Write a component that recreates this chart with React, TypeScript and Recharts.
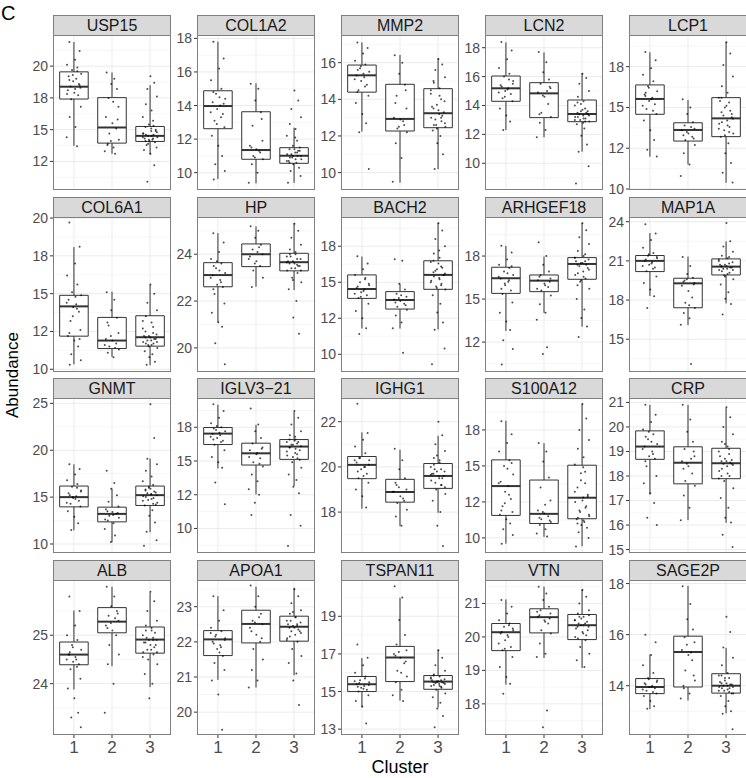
import React from "react";
import {
  ComposedChart,
  XAxis,
  YAxis,
  Scatter,
  CartesianGrid,
  ReferenceArea,
  ReferenceLine,
} from "recharts";

const clusters = [1, 2, 3];

const genes = [
  "USP15", "COL1A2", "MMP2", "LCN2", "LCP1",
  "COL6A1", "HP", "BACH2", "ARHGEF18", "MAP1A",
  "GNMT", "IGLV3\u221221", "IGHG1", "S100A12", "CRP",
  "ALB", "APOA1", "TSPAN11", "VTN", "SAGE2P",
];

const yDomains: [number, number][] = [
  [10.25, 22.45], [8.97, 18.2], [9.05, 17.51], [8.15, 18.88], [9.94, 19.44],
  [9.82, 20.07], [18.97, 25.59], [8.77, 19.53], [10.76, 19.77], [12.49, 24.36],
  [9.04, 25.57], [8.18, 19.67], [16.19, 23.05], [8.95, 19.72], [14.86, 21.18],
  [22.94, 26.14], [19.35, 23.76], [12.69, 20.93], [17.07, 21.7], [12.07, 18.14],
];

const yTicks: number[][] = [
  [12.5, 15, 17.5, 20], [10, 12, 14, 16, 18], [10, 12, 14, 16], [10, 12, 14, 16, 18], [10, 12.5, 15, 17.5],
  [10, 12.5, 15, 17.5, 20], [20, 22, 24], [10, 12.5, 15, 17.5], [12.5, 15, 17.5], [15, 18, 21, 24],
  [10, 15, 20, 25], [10, 12.5, 15, 17.5], [18, 20, 22], [10, 12.5, 15, 17.5], [15, 16, 17, 18, 19, 20, 21],
  [24, 25], [20, 21, 22, 23], [13, 15, 17, 19], [18, 19, 20, 21], [14, 16, 18],
];

const yTickLabels: string[][] = [
  ["12", "15", "18", "20"], ["10", "12", "14", "16", "18"], ["10", "12", "14", "16"], ["10", "12", "14", "16", "18"], ["10", "12", "15", "18"],
  ["10", "12", "15", "18", "20"], ["20", "22", "24"], ["10", "12", "15", "18"], ["12", "15", "18"], ["15", "18", "21", "24"],
  ["10", "15", "20", "25"], ["10", "12", "15", "18"], ["18", "20", "22"], ["10", "12", "15", "18"], ["15", "16", "17", "18", "19", "20", "21"],
  ["24", "25"], ["20", "21", "22", "23"], ["13", "15", "17", "19"], ["18", "19", "20", "21"], ["14", "16", "18"],
];

// [whisker low, q1, median, q3, whisker high] per cluster
const boxStats: number[][][] = [
  [[13.73, 17.41, 18.38, 19.55, 21.9], [13.1, 13.94, 15.17, 17.52, 19.5], [13.05, 14.07, 14.51, 15.25, 18.5]],
  [[9.62, 12.62, 13.97, 14.88, 17.8], [9.37, 10.8, 11.35, 13.63, 15.32], [9.4, 10.56, 11.01, 11.49, 12.68]],
  [[12.24, 14.39, 15.31, 15.87, 17.11], [9.45, 12.27, 12.93, 14.82, 16.42], [10.18, 12.45, 13.24, 14.58, 16.24]],
  [[12.3, 14.29, 15.19, 16.04, 18.37], [11.8, 13.16, 14.84, 15.58, 17.68], [10.8, 12.88, 13.41, 14.38, 16.23]],
  [[11.98, 14.58, 15.52, 16.38, 18.38], [11.51, 12.94, 13.62, 14.06, 15.46], [10.38, 13.21, 14.33, 15.6, 19.0]],
  [[10.33, 12.19, 14.16, 14.89, 18.08], [10.82, 11.37, 11.9, 13.43, 15.13], [10.27, 11.53, 12.12, 13.54, 15.58]],
  [[21.11, 22.61, 23.11, 23.64, 24.9], [22.61, 23.47, 24.0, 24.44, 25.19], [22.47, 23.29, 23.66, 24.04, 25.33]],
  [[11.79, 13.88, 14.53, 15.51, 16.79], [11.79, 13.14, 13.77, 14.35, 14.9], [11.72, 14.51, 15.51, 16.49, 19.12]],
  [[13.15, 15.33, 16.21, 16.85, 18.09], [14.2, 15.43, 16.07, 16.4, 17.47], [13.39, 16.15, 17.04, 17.41, 19.42]],
  [[18.31, 20.18, 21.0, 21.41, 23.13], [16.08, 17.41, 19.28, 19.67, 21.33], [17.74, 19.92, 20.56, 21.15, 22.49]],
  [[11.46, 13.96, 15.0, 16.18, 18.5], [10.18, 12.36, 13.21, 13.93, 15.89], [11.25, 14.11, 15.21, 16.18, 19.11]],
  [[14.45, 16.22, 17.03, 17.48, 19.17], [12.52, 14.7, 15.57, 16.32, 17.68], [13.14, 15.12, 16.07, 16.59, 18.65]],
  [[18.15, 19.48, 20.09, 20.46, 21.53], [17.38, 18.44, 18.89, 19.45, 20.76], [17.97, 19.05, 19.6, 20.15, 21.38]],
  [[9.6, 11.56, 13.6, 15.42, 18.14], [10.07, 11.0, 11.67, 14.02, 16.58], [9.42, 11.33, 12.79, 15.05, 19.3]],
  [[17.25, 18.68, 19.2, 19.84, 20.9], [16.2, 17.68, 18.54, 19.19, 20.9], [16.09, 17.89, 18.52, 19.13, 20.77]],
  [[23.88, 24.39, 24.6, 24.86, 25.51], [24.36, 25.05, 25.28, 25.57, 26.0], [23.93, 24.63, 24.91, 25.17, 25.88]],
  [[20.92, 21.61, 22.07, 22.32, 23.3], [20.7, 21.97, 22.51, 22.9, 23.57], [21.05, 22.02, 22.43, 22.73, 23.54]],
  [[14.16, 15.0, 15.39, 15.8, 16.78], [14.52, 15.53, 16.81, 17.4, 19.98], [14.15, 15.12, 15.53, 15.85, 17.22]],
  [[18.57, 19.59, 20.14, 20.4, 21.12], [19.37, 20.12, 20.59, 20.84, 21.5], [19.07, 19.92, 20.35, 20.67, 21.42]],
  [[13.08, 13.69, 13.95, 14.28, 15.22], [13.42, 13.95, 15.32, 15.94, 17.91], [12.92, 13.71, 14.0, 14.47, 15.48]],
];

// individual samples per cluster, full spread (read approximately)
const points: number[][][] = [
  [
    [21.9, 21.2, 20.5, 20.1, 19.9, 19.7, 19.4, 19.2, 19.0, 18.8, 18.6, 18.4, 18.3, 18.1, 17.9, 17.7, 17.4, 16.8, 16.0, 15.2, 14.4, 13.7],
    [19.5, 19.0, 18.6, 18.2, 17.5, 16.8, 16.0, 15.5, 15.1, 14.7, 14.2, 13.9, 13.6, 13.3, 13.1],
    [19.2, 18.7, 18.2, 17.6, 17.0, 16.5, 16.0, 15.7, 15.4, 15.2, 15.0, 14.9, 14.7, 14.6, 14.5, 14.4, 14.3, 14.2, 14.1, 14.0, 13.8, 13.6, 13.4, 13.1, 12.2, 10.9],
  ],
  [
    [17.8, 16.8, 16.2, 15.5, 15.0, 14.7, 14.4, 14.2, 14.0, 13.8, 13.5, 13.1, 12.7, 12.2, 11.6, 11.0, 10.5, 10.1, 9.6],
    [15.3, 15.0, 14.3, 13.6, 12.8, 11.9, 11.6, 11.4, 11.2, 11.0, 10.8, 10.5, 10.0, 9.4],
    [14.9, 14.3, 13.8, 13.3, 12.9, 12.6, 12.2, 11.9, 11.6, 11.4, 11.3, 11.2, 11.1, 11.0, 10.9, 10.8, 10.7, 10.6, 10.5, 10.3, 10.1, 9.8, 9.4],
  ],
  [
    [17.1, 16.8, 16.5, 16.1, 15.9, 15.7, 15.5, 15.3, 15.2, 15.0, 14.8, 14.5, 14.2, 13.8, 13.2, 12.7, 12.2, 10.2],
    [16.4, 16.0, 15.4, 14.8, 14.2, 13.5, 13.0, 12.9, 12.6, 12.4, 12.2, 11.6, 10.8, 9.5],
    [16.2, 15.9, 15.6, 15.2, 14.9, 14.6, 14.3, 14.0, 13.7, 13.5, 13.3, 13.2, 13.0, 12.8, 12.6, 12.5, 12.3, 12.0, 11.6, 11.0, 10.2],
  ],
  [
    [18.4, 17.8, 17.2, 16.6, 16.2, 16.0, 15.7, 15.4, 15.2, 15.0, 14.8, 14.5, 14.3, 13.8, 13.3, 12.9, 12.3],
    [17.7, 17.0, 16.3, 15.8, 15.5, 15.2, 14.9, 14.6, 14.1, 13.5, 13.2, 12.8, 12.3, 11.8],
    [16.2, 15.9, 15.5, 15.0, 14.6, 14.3, 14.0, 13.8, 13.6, 13.5, 13.4, 13.3, 13.2, 13.1, 13.0, 12.9, 12.7, 12.4, 11.9, 11.3, 10.8, 9.8, 8.6],
  ],
  [
    [18.4, 17.9, 17.4, 17.0, 16.6, 16.3, 16.0, 15.8, 15.6, 15.4, 15.2, 14.9, 14.6, 14.2, 13.6, 13.0, 12.4, 12.0],
    [15.5, 15.0, 14.6, 14.1, 13.9, 13.7, 13.6, 13.4, 13.2, 13.0, 12.7, 12.2, 11.5, 10.8],
    [19.0, 18.3, 17.6, 16.9, 16.3, 15.9, 15.6, 15.3, 15.0, 14.7, 14.4, 14.2, 14.0, 13.8, 13.6, 13.4, 13.2, 12.8, 12.2, 11.6, 11.0, 10.4],
  ],
  [
    [19.7, 18.1, 17.0, 16.2, 15.6, 15.1, 14.9, 14.6, 14.3, 14.1, 13.8, 13.2, 12.6, 12.2, 11.9, 11.5, 11.0, 10.6, 10.3],
    [15.1, 14.6, 13.9, 13.4, 12.9, 12.4, 12.0, 11.9, 11.7, 11.5, 11.3, 11.1, 10.8],
    [15.6, 15.0, 14.4, 13.9, 13.5, 13.1, 12.7, 12.4, 12.2, 12.1, 12.0, 11.9, 11.8, 11.7, 11.6, 11.4, 11.2, 11.0, 10.8, 10.5, 10.3],
  ],
  [
    [24.9, 24.5, 24.1, 23.8, 23.6, 23.4, 23.2, 23.1, 22.9, 22.7, 22.6, 22.3, 21.9, 21.5, 21.1, 20.9, 20.2, 19.3],
    [25.2, 25.0, 24.7, 24.4, 24.2, 24.0, 23.9, 23.7, 23.5, 23.3, 23.0, 22.6],
    [25.3, 25.0, 24.7, 24.4, 24.2, 24.0, 23.9, 23.8, 23.7, 23.6, 23.5, 23.4, 23.3, 23.2, 23.0, 22.8, 22.5, 22.0, 21.3, 20.6],
  ],
  [
    [16.8, 16.3, 15.9, 15.5, 15.3, 15.0, 14.8, 14.6, 14.5, 14.3, 14.1, 13.9, 13.5, 13.0, 12.5, 11.8, 11.4],
    [16.6, 16.5, 14.9, 14.5, 14.2, 14.0, 13.8, 13.7, 13.5, 13.3, 13.1, 12.7, 12.2, 11.8, 10.1],
    [19.1, 18.6, 18.0, 17.5, 17.0, 16.7, 16.4, 16.1, 15.9, 15.7, 15.5, 15.3, 15.1, 14.9, 14.7, 14.5, 14.1, 13.5, 12.9, 12.2, 11.7, 10.4, 9.3],
  ],
  [
    [18.1, 17.7, 17.3, 17.0, 16.8, 16.6, 16.4, 16.2, 16.0, 15.8, 15.5, 15.3, 14.8, 14.2, 13.7, 13.2, 12.6, 12.1, 11.2],
    [18.3, 17.5, 17.0, 16.6, 16.4, 16.2, 16.1, 15.9, 15.7, 15.5, 15.2, 14.7, 14.2, 13.8, 12.2, 11.8],
    [19.4, 19.0, 18.6, 18.2, 17.8, 17.5, 17.4, 17.2, 17.1, 17.0, 16.8, 16.6, 16.4, 16.2, 16.0, 15.6, 15.0, 14.4, 13.9, 13.4, 12.8],
  ],
  [
    [23.8, 23.1, 22.6, 22.0, 21.6, 21.4, 21.2, 21.0, 20.9, 20.7, 20.5, 20.2, 19.8, 19.3, 18.8, 18.3, 17.4],
    [21.3, 20.6, 20.0, 19.7, 19.5, 19.3, 19.1, 18.7, 18.2, 17.8, 17.4, 17.0, 16.6, 16.1, 13.1],
    [23.9, 22.5, 22.1, 21.7, 21.4, 21.2, 21.0, 20.8, 20.7, 20.6, 20.5, 20.4, 20.3, 20.1, 19.9, 19.6, 19.2, 18.6, 18.1, 17.7, 16.9],
  ],
  [
    [18.5, 18.0, 17.4, 16.8, 16.4, 16.1, 15.7, 15.4, 15.1, 14.9, 14.6, 14.3, 14.0, 13.5, 12.9, 12.2, 11.5],
    [17.8, 16.5, 15.9, 15.2, 14.5, 14.0, 13.7, 13.4, 13.2, 13.0, 12.8, 12.5, 12.2, 11.6, 10.9, 10.2],
    [24.9, 21.3, 19.1, 18.5, 17.8, 17.2, 16.7, 16.3, 16.0, 15.7, 15.5, 15.3, 15.1, 14.9, 14.7, 14.4, 14.1, 13.6, 13.0, 12.3, 11.3, 10.4, 9.8],
  ],
  [
    [19.2, 18.7, 18.2, 17.8, 17.5, 17.3, 17.2, 17.0, 16.9, 16.7, 16.5, 16.2, 15.8, 15.3, 14.9, 14.5, 13.4, 11.8],
    [18.9, 17.7, 17.2, 16.7, 16.3, 16.0, 15.8, 15.5, 15.2, 14.9, 14.6, 14.0, 13.5, 12.9, 12.5, 11.9, 11.0],
    [18.7, 18.2, 17.7, 17.2, 16.9, 16.6, 16.4, 16.3, 16.2, 16.0, 15.8, 15.6, 15.4, 15.2, 14.9, 14.5, 14.0, 13.6, 13.1, 12.6, 11.0, 10.2, 8.7],
  ],
  [
    [22.8, 21.5, 21.2, 20.9, 20.6, 20.4, 20.3, 20.2, 20.0, 19.9, 19.7, 19.5, 19.3, 19.0, 18.7, 18.2],
    [20.8, 20.3, 19.9, 19.5, 19.2, 19.0, 18.9, 18.7, 18.5, 18.4, 18.1, 17.8, 17.4],
    [22.0, 21.4, 21.0, 20.7, 20.4, 20.2, 20.0, 19.9, 19.8, 19.7, 19.6, 19.5, 19.4, 19.2, 19.0, 18.8, 18.5, 18.0, 17.4, 16.5],
  ],
  [
    [18.1, 17.2, 16.6, 16.0, 15.4, 15.0, 14.4, 13.9, 13.6, 13.2, 12.7, 12.2, 11.8, 11.6, 11.3, 11.0, 10.6, 10.2, 9.6],
    [16.6, 16.0, 15.3, 14.2, 13.5, 12.6, 11.9, 11.7, 11.5, 11.3, 11.1, 10.9, 10.6, 10.3, 10.1],
    [19.3, 18.3, 17.5, 16.8, 16.2, 15.6, 15.1, 14.6, 14.0, 13.5, 13.0, 12.8, 12.5, 12.1, 11.8, 11.5, 11.3, 11.1, 10.9, 10.7, 10.4, 10.0, 9.4],
  ],
  [
    [20.9, 20.5, 20.2, 19.9, 19.7, 19.5, 19.3, 19.2, 19.0, 18.8, 18.7, 18.4, 18.0, 17.7, 17.3, 16.9, 16.3, 16.0],
    [20.9, 20.3, 19.8, 19.4, 19.1, 18.8, 18.6, 18.4, 18.1, 17.8, 17.6, 17.2, 16.7, 16.2],
    [20.8, 20.4, 20.0, 19.7, 19.4, 19.2, 19.0, 18.9, 18.7, 18.6, 18.5, 18.4, 18.2, 18.0, 17.8, 17.5, 17.1, 16.7, 16.3, 16.1, 15.6, 15.1],
  ],
  [
    [25.8, 25.5, 25.2, 25.0, 24.9, 24.8, 24.7, 24.6, 24.5, 24.45, 24.4, 24.3, 24.1, 23.9, 23.7, 23.4, 23.3, 23.1],
    [26.0, 25.8, 25.6, 25.5, 25.4, 25.3, 25.2, 25.1, 25.0, 24.8, 24.6, 24.4, 24.0, 23.4],
    [25.9, 25.7, 25.5, 25.3, 25.2, 25.1, 25.0, 24.95, 24.9, 24.85, 24.8, 24.7, 24.65, 24.6, 24.5, 24.4, 24.2, 24.0, 23.7],
  ],
  [
    [23.3, 22.9, 22.6, 22.4, 22.3, 22.2, 22.1, 22.0, 21.9, 21.8, 21.6, 21.4, 21.2, 20.9, 20.5, 19.5],
    [23.6, 23.3, 23.0, 22.8, 22.6, 22.5, 22.4, 22.2, 22.0, 21.8, 21.5, 21.2, 20.9, 20.7],
    [23.5, 23.3, 23.1, 22.9, 22.8, 22.7, 22.6, 22.5, 22.45, 22.4, 22.3, 22.2, 22.1, 22.0, 21.8, 21.6, 21.4, 21.1, 20.9, 20.2],
  ],
  [
    [17.5, 16.8, 16.4, 16.0, 15.8, 15.6, 15.5, 15.4, 15.3, 15.2, 15.1, 15.0, 14.8, 14.5, 14.2, 13.3],
    [20.6, 20.0, 18.8, 18.0, 17.5, 17.2, 17.0, 16.8, 16.5, 16.1, 15.8, 15.5, 15.1, 14.8, 14.5],
    [17.2, 16.8, 16.4, 16.1, 15.9, 15.8, 15.7, 15.6, 15.55, 15.5, 15.45, 15.4, 15.3, 15.2, 15.1, 14.9, 14.7, 14.4, 14.1, 13.7, 13.1],
  ],
  [
    [21.1, 20.9, 20.7, 20.5, 20.4, 20.3, 20.2, 20.1, 20.0, 19.9, 19.7, 19.6, 19.4, 19.1, 18.8, 18.6, 18.3],
    [21.5, 21.3, 21.1, 20.9, 20.8, 20.7, 20.6, 20.5, 20.4, 20.2, 20.1, 19.8, 19.5, 19.4, 17.8, 17.3],
    [21.4, 21.2, 21.0, 20.8, 20.7, 20.6, 20.5, 20.4, 20.35, 20.3, 20.2, 20.1, 20.0, 19.9, 19.7, 19.5, 19.3, 19.1],
  ],
  [
    [16.0, 15.7, 15.2, 14.8, 14.5, 14.3, 14.2, 14.1, 14.0, 13.95, 13.9, 13.8, 13.7, 13.6, 13.4, 13.2, 13.1],
    [17.9, 17.2, 16.6, 16.2, 15.9, 15.7, 15.4, 15.2, 15.0, 14.6, 14.2, 13.9, 13.7, 13.5],
    [16.7, 16.1, 15.5, 15.1, 14.8, 14.5, 14.4, 14.3, 14.2, 14.1, 14.05, 14.0, 13.95, 13.9, 13.8, 13.7, 13.6, 13.4, 13.2, 13.0, 12.9, 12.3],
  ],
];

// further samples from the dense middle of each cloud
const innerPoints: number[][][] = [
  [[19.3, 18.9, 18.5, 18.2, 17.8, 19.6], [14.1, 13.8, 15.8, 17.2], [14.8, 14.6, 14.5, 14.4, 14.3, 14.2, 14.1, 14.9, 15.1, 14.7, 15.3, 13.9]],
  [[14.5, 13.6, 13.3, 12.9, 14.8, 14.1], [11.3, 10.9, 11.5, 13.2], [11.4, 11.3, 11.1, 11.0, 10.9, 10.8, 10.7, 11.2, 11.0, 10.6, 11.5, 12.1]],
  [[15.6, 15.4, 15.1, 14.7, 15.8, 14.4], [12.8, 12.5, 13.8, 14.5], [13.9, 13.6, 13.4, 13.1, 12.9, 12.7, 12.6, 14.2, 14.5, 13.0, 12.4, 15.0]],
  [[15.5, 15.3, 15.1, 14.9, 15.8, 14.6], [15.0, 14.7, 13.4, 15.3], [13.7, 13.5, 13.4, 13.3, 13.2, 13.1, 13.0, 12.9, 14.1, 14.2, 13.6, 12.8]],
  [[15.9, 15.5, 15.1, 14.8, 16.2, 15.7], [13.8, 13.5, 13.3, 13.1], [15.4, 15.1, 14.8, 14.5, 14.3, 14.1, 13.9, 13.7, 13.5, 13.3, 15.6, 14.6]],
  [[14.8, 14.4, 14.0, 13.5, 12.4, 12.0], [11.6, 11.4, 12.2, 13.1], [12.3, 12.2, 12.1, 12.0, 11.9, 11.8, 11.7, 11.6, 13.2, 12.8, 11.5, 12.5]],
  [[23.5, 23.3, 23.0, 22.8, 23.7, 22.5], [24.1, 23.8, 24.3, 23.6], [23.9, 23.8, 23.7, 23.6, 23.5, 23.4, 23.3, 24.0, 24.1, 23.65, 23.55, 22.9]],
  [[14.9, 14.7, 14.4, 14.2, 15.2, 14.0], [13.9, 13.6, 13.4, 14.1], [16.3, 16.0, 15.8, 15.6, 15.4, 15.2, 15.0, 14.8, 14.6, 16.5, 15.5, 17.2]],
  [[16.5, 16.3, 16.1, 15.9, 15.6, 16.9], [16.3, 16.0, 15.8, 15.6], [17.3, 17.2, 17.1, 17.0, 16.9, 16.7, 16.5, 16.3, 17.4, 17.6, 16.1, 15.8]],
  [[21.3, 21.1, 20.8, 20.6, 20.4, 21.5], [19.6, 19.4, 19.2, 17.6], [20.9, 20.7, 20.6, 20.5, 20.4, 20.3, 20.2, 20.0, 21.1, 21.3, 19.8, 20.55]],
  [[15.6, 15.2, 14.8, 14.4, 16.0, 15.0], [13.5, 13.3, 13.1, 12.6], [15.9, 15.6, 15.4, 15.2, 15.0, 14.8, 14.6, 14.3, 16.1, 15.8, 14.2, 15.3]],
  [[17.4, 17.1, 16.8, 16.4, 17.6, 16.6], [15.9, 15.6, 15.3, 14.8], [16.5, 16.4, 16.2, 16.1, 16.0, 15.9, 15.7, 15.5, 15.3, 16.6, 15.1, 16.8]],
  [[20.4, 20.1, 19.8, 19.6, 20.3, 20.0], [18.9, 18.6, 19.1, 19.3], [19.9, 19.8, 19.7, 19.6, 19.5, 19.3, 19.1, 20.1, 20.3, 19.65, 19.2, 20.5]],
  [[14.8, 13.8, 13.0, 12.4, 11.9, 15.2], [11.8, 11.4, 11.2, 12.3], [12.6, 12.2, 11.9, 11.6, 11.4, 11.2, 13.2, 13.8, 14.5, 11.0, 12.9, 14.9]],
  [[19.6, 19.4, 19.1, 18.9, 19.8, 18.6], [18.7, 18.5, 18.3, 19.0], [18.8, 18.6, 18.55, 18.5, 18.45, 18.3, 18.1, 17.9, 19.1, 19.3, 18.0, 18.65]],
  [[24.65, 24.55, 24.5, 24.35, 24.75, 24.6], [25.35, 25.25, 25.15, 25.45], [25.05, 24.95, 24.9, 24.85, 24.8, 24.75, 24.7, 24.65, 25.1, 25.15, 24.55, 24.9]],
  [[22.15, 22.05, 21.95, 21.7, 22.25, 21.85], [22.7, 22.55, 22.3, 22.1], [22.6, 22.55, 22.5, 22.4, 22.35, 22.3, 22.25, 22.15, 22.7, 22.05, 22.45, 22.85]],
  [[15.45, 15.35, 15.25, 15.15, 15.55, 15.7], [17.1, 16.9, 16.6, 16.0], [15.65, 15.6, 15.55, 15.5, 15.45, 15.4, 15.35, 15.3, 15.75, 15.25, 15.5, 15.85]],
  [[20.25, 20.15, 20.05, 19.8, 20.35, 19.65], [20.65, 20.55, 20.45, 20.75], [20.55, 20.45, 20.4, 20.3, 20.25, 20.15, 20.05, 20.6, 20.65, 19.95, 20.35, 20.5]],
  [[14.15, 14.05, 13.95, 13.85, 13.75, 14.25], [15.3, 15.6, 14.0, 14.4], [14.15, 14.1, 14.05, 14.0, 13.95, 13.9, 13.85, 13.8, 13.75, 14.3, 14.4, 13.7]],
];

// horizontal jitter offsets (cluster units)
const jitter = [-0.12, 0.15, 0.03, -0.18, 0.09, -0.05, 0.19, -0.14, 0.06, -0.02, 0.13, -0.09, 0.17, -0.16, 0.01, 0.11, -0.07, 0.18, -0.11, 0.04, -0.19, 0.08, -0.03];

const PANEL_W = 118;
const PANEL_H = 155;
const STRIP_H = 20;
const AXIS_W = 40;
const XAXIS_H = 28;
const PAD = 9;
const BOX_HALF = 0.375;
const LINE = "#333333";

function minorBreaks(ticks: number[], domain: [number, number]) {
  const step = ticks.length > 1 ? ticks[1] - ticks[0] : 1;
  let v = ticks[0] - step / 2;
  while (v - step >= domain[0]) v -= step;
  const out: number[] = [];
  for (; v <= domain[1]; v += step) if (v >= domain[0]) out.push(v);
  return out;
}

const Dot = (p: any) => (
  <circle cx={p.cx} cy={p.cy} r={1} fill="#000" fillOpacity={0.7} />
);

function Panel({ g }: { g: number }) {
  const row = Math.floor(g / 5);
  const col = g % 5;
  const bottom = row === 3;
  const left = 53 + col * 144 - AXIS_W;
  const top = 15 + row * 181.7;
  const pts = clusters.flatMap((c, ci) =>
    points[g][ci]
      .concat(innerPoints[g][ci])
      .map((y, i) => ({ x: c + jitter[(i + ci * 7) % jitter.length], y }))
  );

  return (
    <div style={{ position: "absolute", left, top, width: AXIS_W + PANEL_W }}>
      <div
        style={{
          position: "absolute",
          left: AXIS_W,
          top: 0,
          width: PANEL_W,
          height: STRIP_H + 1,
          boxSizing: "border-box",
          background: "#D9D9D9",
          border: "1px solid #808080",
          fontSize: 16,
          lineHeight: `${STRIP_H - 1}px`,
          textAlign: "center",
          color: "#1A1A1A",
          whiteSpace: "nowrap",
        }}
      >
        {genes[g]}
      </div>
      <div style={{ position: "absolute", left: 0, top: STRIP_H - PAD }}>
        <ComposedChart
          width={AXIS_W + PANEL_W}
          height={PANEL_H + PAD + (bottom ? XAXIS_H : PAD)}
          data={pts}
          margin={{ top: PAD, right: 0, bottom: bottom ? 0 : PAD, left: 0 }}
        >
          <CartesianGrid
            horizontalValues={minorBreaks(yTicks[g], yDomains[g])}
            vertical={false}
            stroke="#F2F2F2"
            strokeWidth={0.7}
          />
          <CartesianGrid
            horizontalValues={yTicks[g]}
            verticalValues={clusters}
            stroke="#EBEBEB"
            strokeWidth={1}
          />
          <XAxis
            type="number"
            dataKey="x"
            domain={[0.45, 3.55]}
            ticks={clusters}
            interval={0}
            hide={!bottom}
            height={XAXIS_H}
            axisLine={false}
            tickLine={{ stroke: LINE }}
            tickSize={3}
            tickMargin={3}
            tick={{ fontSize: 17, fill: "#4D4D4D" }}
            allowDataOverflow
          />
          <YAxis
            type="number"
            dataKey="y"
            domain={yDomains[g]}
            ticks={yTicks[g]}
            interval={0}
            tickFormatter={(v: number) => yTickLabels[g][yTicks[g].indexOf(v)]}
            width={AXIS_W}
            axisLine={false}
            tickLine={{ stroke: LINE }}
            tickSize={3}
            tickMargin={2}
            tick={{ fontSize: 14, fill: "#4D4D4D" }}
            allowDataOverflow
          />
          {clusters.map((c, ci) => {
            const s = boxStats[g][ci];
            return (
              <React.Fragment key={c}>
                <ReferenceLine
                  segment={[{ x: c, y: s[0] }, { x: c, y: s[1] }]}
                  stroke={LINE}
                  strokeWidth={1}
                />
                <ReferenceLine
                  segment={[{ x: c, y: s[3] }, { x: c, y: s[4] }]}
                  stroke={LINE}
                  strokeWidth={1}
                />
                <ReferenceArea
                  x1={c - BOX_HALF}
                  x2={c + BOX_HALF}
                  y1={s[1]}
                  y2={s[3]}
                  fill="#FFFFFF"
                  fillOpacity={1}
                  stroke={LINE}
                  strokeWidth={1}
                />
                <ReferenceLine
                  segment={[{ x: c - BOX_HALF, y: s[2] }, { x: c + BOX_HALF, y: s[2] }]}
                  stroke={LINE}
                  strokeWidth={2}
                />
              </React.Fragment>
            );
          })}
          <Scatter data={pts} shape={Dot} isAnimationActive={false} />
        </ComposedChart>
      </div>
      <div
        style={{
          position: "absolute",
          left: AXIS_W,
          top: STRIP_H,
          width: PANEL_W,
          height: PANEL_H,
          boxSizing: "border-box",
          border: "1px solid #808080",
          pointerEvents: "none",
        }}
      />
    </div>
  );
}

export default function App() {
  return (
    <div
      style={{
        position: "absolute",
        left: 0,
        top: 0,
        width: 746,
        height: 778,
        overflow: "hidden",
        background: "#FFFFFF",
        fontFamily: '"Liberation Sans", Arial, sans-serif',
      }}
    >
      <div style={{ position: "absolute", left: 1, top: 3, fontSize: 20, lineHeight: 1, color: "#000" }}>C</div>
      {genes.map((_, g) => (
        <Panel key={g} g={g} />
      ))}
      <div
        style={{
          position: "absolute",
          left: 12,
          top: 375,
          transform: "translate(-50%, -50%) rotate(-90deg)",
          fontSize: 17,
          lineHeight: 1,
          whiteSpace: "nowrap",
          color: "#000",
        }}
      >
        Abundance
      </div>
      <div
        style={{
          position: "absolute",
          left: 400,
          top: 758,
          transform: "translateX(-50%)",
          fontSize: 18,
          lineHeight: 1,
          whiteSpace: "nowrap",
          color: "#000",
        }}
      >
        Cluster
      </div>
    </div>
  );
}
